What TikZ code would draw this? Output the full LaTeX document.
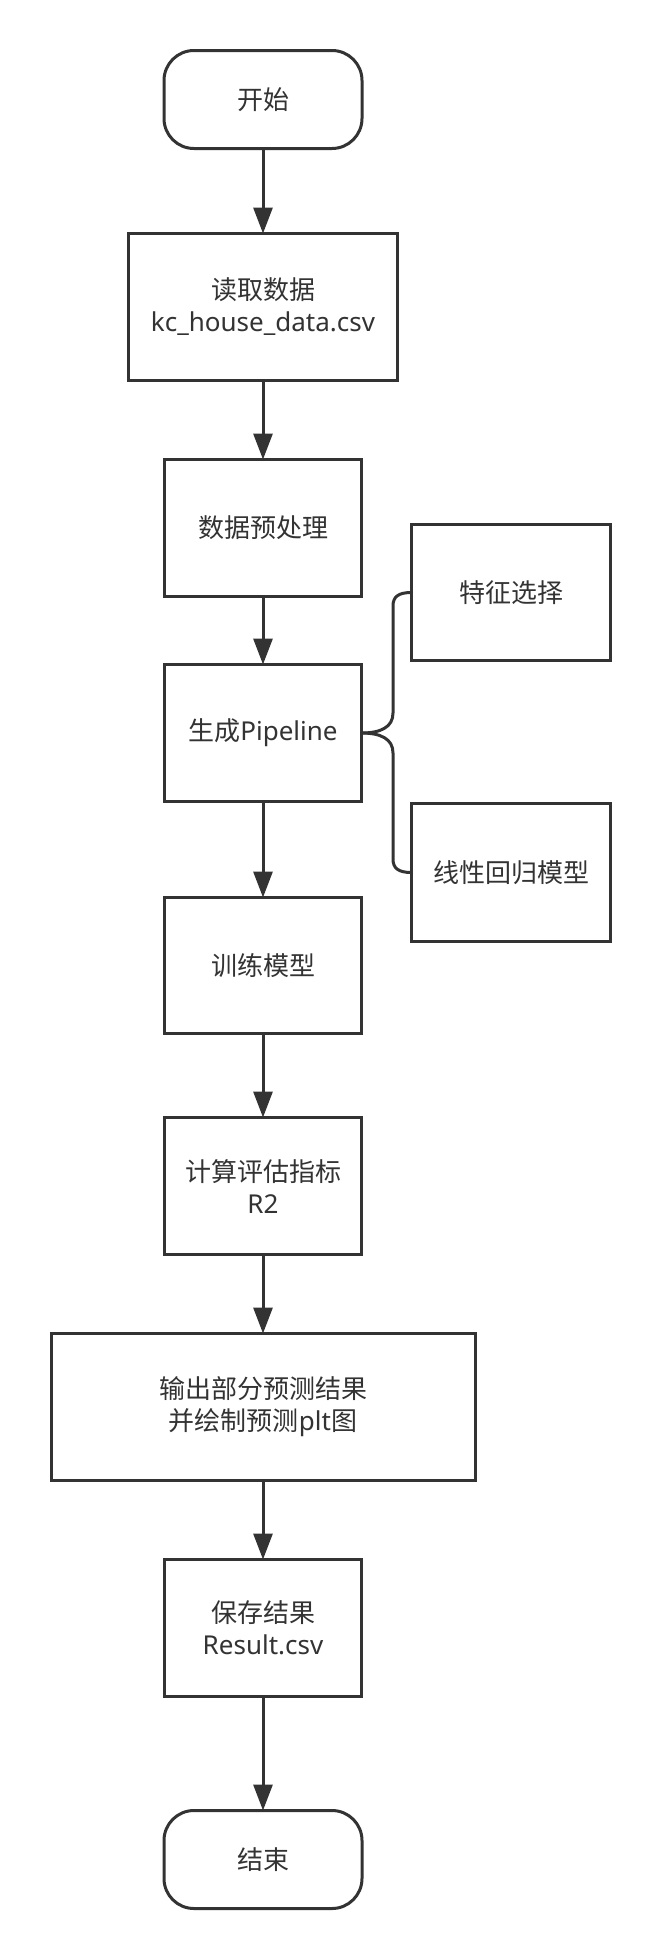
\documentclass[tikz,border=0pt]{standalone}
\usepackage{fontspec}
\setmainfont{Noto Sans}
\newfontfamily\cjk{Noto Sans CJK SC}
\usetikzlibrary{arrows.meta}
\definecolor{ink}{HTML}{333333}
\begin{document}
\begin{tikzpicture}[x=1pt,y=-1pt,
  box/.style={draw=ink, line width=3pt, fill=white, inner sep=0pt, outer sep=0pt,
    align=center, text=ink, font=\fontsize{26}{32}\selectfont,
    minimum width=197pt, minimum height=137pt},
  term/.style={box, rounded corners=30pt, minimum width=198pt, minimum height=98pt},
  flow/.style={draw=ink, line width=3pt, -{Triangle[length=26pt,width=19pt]}},
  brace/.style={draw=ink, line width=3pt, line join=round, line cap=round}]
\useasboundingbox (0,0) rectangle (661,1960);
\fill[white] (0,0) rectangle (661,1960);

\node[term] (start) at (263,99.5) {\cjk 开始};
\node[box, minimum width=269pt, minimum height=147pt] (read) at (263,307) {{\cjk 读取数据}\\kc\_house\_data.csv};
\node[box] (prep) at (263,528) {\cjk 数据预处理};
\node[box] (pipe) at (263,733) {{\cjk 生成}Pipeline};
\node[box, minimum width=199pt, minimum height=136pt] (feat) at (511,592.5) {\cjk 特征选择};
\node[box, minimum width=199pt, minimum height=138pt] (linr) at (511,872.5) {\cjk 线性回归模型};
\node[box, minimum height=136pt] (train) at (263,965.5) {\cjk 训练模型};
\node[box] (calc) at (263,1186) {{\cjk 计算评估指标}\\R2};
\node[box, minimum width=424pt, minimum height=147pt] (out) at (263,1407) {{\cjk 输出部分预测结果}\\{\cjk 并绘制预测}plt{\cjk 图}};
\node[box] (save) at (263,1628) {{\cjk 保存结果}\\Result.csv};
\node[term] (end) at (263,1859.5) {\cjk 结束};

\draw[flow] (start) -- (read);
\draw[flow] (read) -- (prep);
\draw[flow] (prep) -- (pipe);
\draw[flow] (pipe) -- (train);
\draw[flow] (train) -- (calc);
\draw[flow] (calc) -- (out);
\draw[flow] (out) -- (save);
\draw[flow] (save) -- (end);

\draw[brace] (pipe.east) .. controls (381,733) and (393,727) .. (393,713)
  -- (393,606) .. controls (393,597) and (398,592.5) .. (feat.west);
\draw[brace] (pipe.east) .. controls (381,733) and (393,739) .. (393,753)
  -- (393,859) .. controls (393,868) and (398,872.5) .. (linr.west);
\end{tikzpicture}
\end{document}
